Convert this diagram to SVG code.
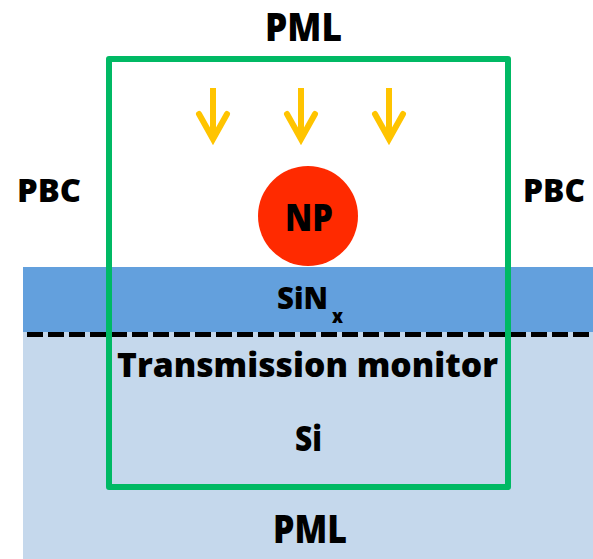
<svg xmlns="http://www.w3.org/2000/svg" width="593" height="559" viewBox="0 0 593 559">
  <style>
    .lbl { font-family: "Open Sans", "Liberation Sans", sans-serif; font-weight: 800; fill: #000; text-anchor: middle; }
    .ray { stroke: #FFC400; stroke-width: 6; fill: none; }
  </style>
  <defs>
    <g id="ray">
      <line class="ray" x1="0" y1="88" x2="0" y2="138" stroke-linecap="butt"/>
      <polyline class="ray" points="-14,114 0,139 14,114" stroke-linecap="round" stroke-linejoin="miter"/>
    </g>
  </defs>
  <rect width="593" height="559" fill="#FFFFFF"/>

  <!-- substrate layers -->
  <g id="si-substrate">
    <rect x="23" y="332" width="570" height="227" fill="#C5D8EC"/>
  </g>
  <g id="sinx-layer">
    <rect x="23" y="267" width="570" height="65" fill="#63A0DD"/>
  </g>

  <!-- nanoparticle -->
  <g id="np">
    <circle cx="308" cy="216" r="50" fill="#FF2A00"/>
    <text class="lbl" x="309" y="231" font-size="37" textLength="48" lengthAdjust="spacingAndGlyphs">NP</text>
  </g>

  <!-- incident light -->
  <g id="incident-light">
    <use href="#ray" x="213"/>
    <use href="#ray" x="301"/>
    <use href="#ray" x="389"/>
  </g>

  <g id="connectors">
    <!-- transmission monitor plane -->
    <line id="monitor-line" x1="27" y1="334.5" x2="593" y2="334.5" stroke="#000" stroke-width="5" stroke-dasharray="16 5"/>
    <!-- simulation region -->
    <rect id="sim-region" x="109" y="59" width="399" height="428" fill="none" stroke="#00B964" stroke-width="6" stroke-linejoin="round"/>
  </g>

  <!-- labels -->
  <g id="pml-top"><text class="lbl" x="303.5" y="41" font-size="38" textLength="77" lengthAdjust="spacingAndGlyphs">PML</text></g>
  <g id="pbc-left"><text class="lbl" x="49" y="202" font-size="31" textLength="64" lengthAdjust="spacingAndGlyphs">PBC</text></g>
  <g id="pbc-right"><text class="lbl" x="554" y="202" font-size="31" textLength="62" lengthAdjust="spacingAndGlyphs">PBC</text></g>
  <g id="sinx-label">
    <text class="lbl" x="302.5" y="309" font-size="29.5" textLength="51" lengthAdjust="spacingAndGlyphs">SiN</text>
    <text class="lbl" x="337.5" y="323" font-size="19" textLength="11" lengthAdjust="spacingAndGlyphs">x</text>
  </g>
  <g id="monitor-label"><text class="lbl" x="307.5" y="377" font-size="33" textLength="381" lengthAdjust="spacingAndGlyphs">Transmission monitor</text></g>
  <g id="si-label"><text class="lbl" x="308.5" y="451" font-size="35" textLength="27" lengthAdjust="spacingAndGlyphs">Si</text></g>
  <g id="pml-bottom"><text class="lbl" x="310" y="543" font-size="39" textLength="74" lengthAdjust="spacingAndGlyphs">PML</text></g>
</svg>
